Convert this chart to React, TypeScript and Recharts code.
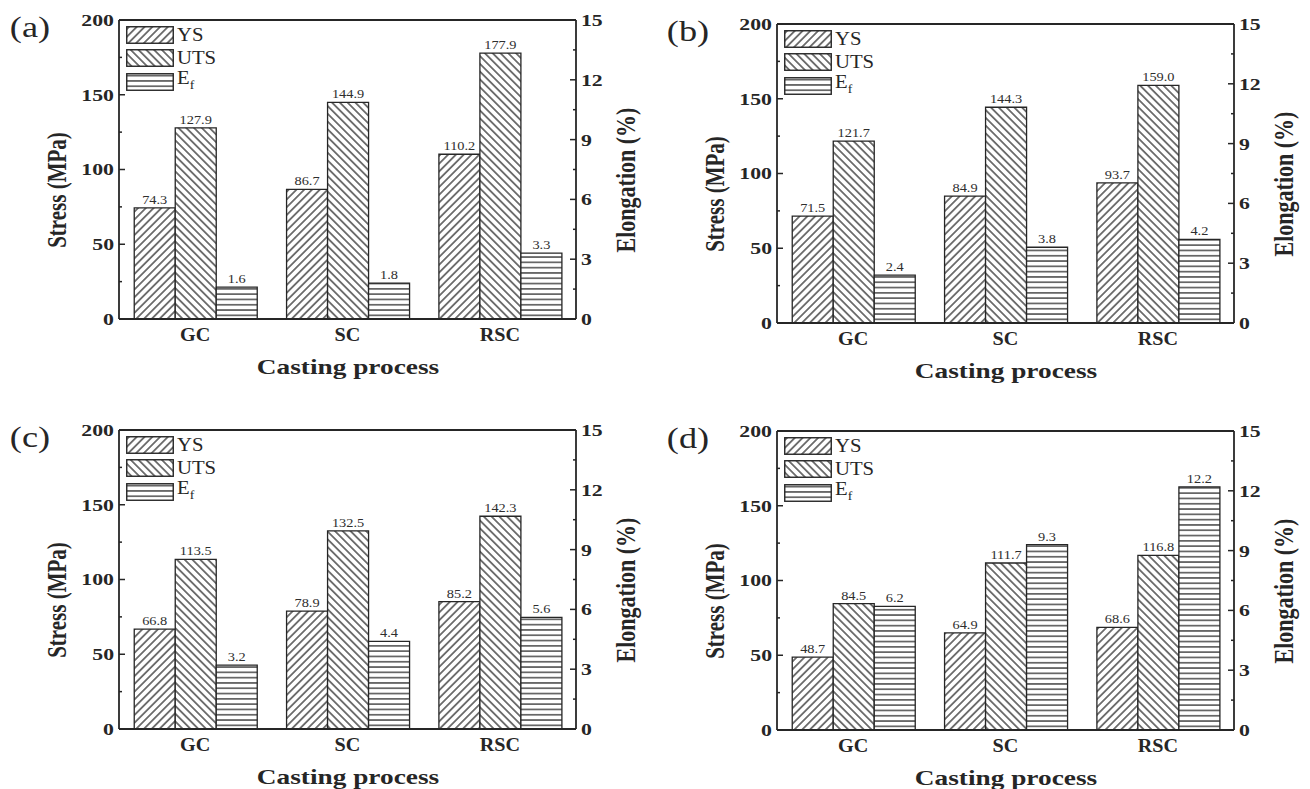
import React from 'react';
import { BarChart, Bar, XAxis, YAxis, LabelList, ReferenceLine } from 'recharts';

const categories = ['GC', 'SC', 'RSC'];

const ysA = [74.3, 86.7, 110.2];
const utsA = [127.9, 144.9, 177.9];
const efA = [1.6, 1.8, 3.3];

const ysB = [71.5, 84.9, 93.7];
const utsB = [121.7, 144.3, 159.0];
const efB = [2.4, 3.8, 4.2];

const ysC = [66.8, 78.9, 85.2];
const utsC = [113.5, 132.5, 142.3];
const efC = [3.2, 4.4, 5.6];

const ysD = [48.7, 64.9, 68.6];
const utsD = [84.5, 111.7, 116.8];
const efD = [6.2, 9.3, 12.2];

const stressTicks = [0, 25, 50, 75, 100, 125, 150, 175, 200];
const elongTicks = [0, 1.5, 3, 4.5, 6, 7.5, 9, 10.5, 12, 13.5, 15];

const FONT = '"Liberation Serif", "Times New Roman", serif';
const INK = '#262626';

const CHART_W = 655;
const CHART_H = 400;
const PLOT_L = 119;
const PLOT_T = 20;
const PLOT_W = 457;
const PLOT_H = 299;

const TM = 4; // gap between axis line and tick labels

// stretched text, the figure is a bit wider than normal Times
const SText = ({ x, y, s = 1.28, anchor = 'middle', size = 17, weight = 700, fill = INK, children }: any) => (
  <text
    transform={`translate(${x},${y}) scale(${s},1)`}
    textAnchor={anchor}
    dy="0.35em"
    fontFamily={FONT}
    fontSize={size}
    fontWeight={weight}
    fill={fill}
  >
    {children}
  </text>
);

const LeftTick = (props: any) => {
  const { x, y, payload } = props;
  const ax = x + TM;
  const major = payload.value % 50 === 0;
  return (
    <g>
      <line x1={ax} x2={ax + (major ? 6 : 3)} y1={y} y2={y} stroke={INK} strokeWidth={1.5} />
      {major && <SText x={ax - 5} y={y} anchor="end">{payload.value}</SText>}
    </g>
  );
};

const RightTick = (props: any) => {
  const { x, y, payload } = props;
  const ax = x - TM;
  const major = payload.value % 3 === 0;
  return (
    <g>
      <line x1={ax} x2={ax - (major ? 6 : 3)} y1={y} y2={y} stroke={INK} strokeWidth={1.5} />
      {major && <SText x={ax + 5} y={y} anchor="start">{payload.value}</SText>}
    </g>
  );
};

const CatTick = (props: any) => {
  const { x, y, payload } = props;
  return <SText x={x} y={y} s={1.12} size={18}>{payload.value}</SText>;
};

const ValueLabel = (props: any) => {
  const { x, y, width, value } = props;
  return (
    <SText x={Number(x) + Number(width) / 2} y={Number(y) - 8} s={1.25} size={11.5} weight={400} fill="#2e2e2e">
      {Number(value).toFixed(1)}
    </SText>
  );
};

const Swatch = ({ fill }: { fill: string }) => (
  <svg width={48} height={18} style={{ display: 'block' }}>
    <rect x={0.75} y={0.75} width={46.5} height={16.5} fill={fill} stroke={INK} strokeWidth={1.4} />
  </svg>
);

const legendRows = [
  { fill: 'url(#hatchYS)', name: 'YS', sub: '' },
  { fill: 'url(#hatchUTS)', name: 'UTS', sub: '' },
  { fill: 'url(#hatchEF)', name: 'E', sub: 'f' },
];

const PanelLegend = () => (
  <div style={{ position: 'absolute', left: PLOT_L + 7, top: PLOT_T + 3 }}>
    {legendRows.map((r) => (
      <div key={r.name} style={{ display: 'flex', alignItems: 'center', height: 23.5 }}>
        <Swatch fill={r.fill} />
        <span
          style={{
            fontFamily: FONT,
            fontSize: 18,
            color: INK,
            marginLeft: 3,
            display: 'inline-block',
            transform: 'scale(1.15,1)',
            transformOrigin: 'left center',
            lineHeight: '18px',
          }}
        >
          {r.name}
          {r.sub && <sub style={{ fontSize: 12 }}>{r.sub}</sub>}
        </span>
      </div>
    ))}
  </div>
);

interface PanelProps {
  tag: string;
  left: number;
  top: number;
  ys: number[];
  uts: number[];
  ef: number[];
}

const Panel = ({ tag, left, top, ys, uts, ef }: PanelProps) => {
  const rows = categories.map((c, i) => ({ cat: c, ys: ys[i], uts: uts[i], ef: ef[i] }));
  return (
    <div style={{ position: 'absolute', left, top, width: CHART_W, height: CHART_H }}>
      <BarChart
        width={CHART_W}
        height={CHART_H}
        data={rows}
        margin={{ top: PLOT_T, right: 0, bottom: 0, left: 0 }}
        barCategoryGap="10%"
        barGap={0}
      >
        <XAxis
          dataKey="cat"
          height={CHART_H - PLOT_T - PLOT_H}
          axisLine={{ stroke: INK, strokeWidth: 1.8 }}
          tickLine={false}
          tickSize={0}
          tickMargin={16}
          tick={<CatTick />}
        />
        <YAxis
          yAxisId="left"
          width={PLOT_L}
          domain={[0, 200]}
          ticks={stressTicks}
          interval={0}
          axisLine={{ stroke: INK, strokeWidth: 1.8 }}
          tickLine={false}
          tickSize={0}
          tickMargin={TM}
          tick={<LeftTick />}
        />
        <YAxis
          yAxisId="right"
          orientation="right"
          width={CHART_W - PLOT_L - PLOT_W}
          domain={[0, 15]}
          ticks={elongTicks}
          interval={0}
          axisLine={{ stroke: INK, strokeWidth: 1.8 }}
          tickLine={false}
          tickSize={0}
          tickMargin={TM}
          tick={<RightTick />}
        />
        <ReferenceLine yAxisId="left" y={200} stroke={INK} strokeWidth={1.8} />
        <Bar dataKey="ys" yAxisId="left" fill="url(#hatchYS)" stroke={INK} strokeWidth={1.3} isAnimationActive={false}>
          <LabelList dataKey="ys" content={<ValueLabel />} />
        </Bar>
        <Bar dataKey="uts" yAxisId="left" fill="url(#hatchUTS)" stroke={INK} strokeWidth={1.3} isAnimationActive={false}>
          <LabelList dataKey="uts" content={<ValueLabel />} />
        </Bar>
        <Bar dataKey="ef" yAxisId="right" fill="url(#hatchEF)" stroke={INK} strokeWidth={1.3} isAnimationActive={false}>
          <LabelList dataKey="ef" content={<ValueLabel />} />
        </Bar>
      </BarChart>

      <PanelLegend />

      <div
        style={{
          position: 'absolute',
          left: PLOT_L - 89,
          top: PLOT_T + 7,
          transform: 'translate(-50%,-50%) scale(1.25,1)',
          fontFamily: FONT,
          fontSize: 29,
          color: INK,
          whiteSpace: 'nowrap',
        }}
      >
        ({tag})
      </div>
      <div
        style={{
          position: 'absolute',
          left: PLOT_L - 61,
          top: PLOT_T + PLOT_H / 2 + 20,
          transform: 'translate(-50%,-50%) scale(1.25,1) rotate(-90deg)',
          fontFamily: FONT,
          fontSize: 21,
          fontWeight: 700,
          color: INK,
          whiteSpace: 'nowrap',
        }}
      >
        Stress (MPa)
      </div>
      <div
        style={{
          position: 'absolute',
          left: PLOT_L + PLOT_W + 50,
          top: PLOT_T + PLOT_H / 2 + 10,
          transform: 'translate(-50%,-50%) scale(1.25,1) rotate(-90deg)',
          fontFamily: FONT,
          fontSize: 22,
          fontWeight: 700,
          color: INK,
          whiteSpace: 'nowrap',
        }}
      >
        Elongation (%)
      </div>
      <div
        style={{
          position: 'absolute',
          left: PLOT_L + PLOT_W / 2,
          top: PLOT_T + PLOT_H + 48,
          transform: 'translate(-50%,-50%) scale(1.3,1)',
          fontFamily: FONT,
          fontSize: 21,
          fontWeight: 700,
          color: INK,
          whiteSpace: 'nowrap',
        }}
      >
        Casting process
      </div>
    </div>
  );
};

const HatchDefs = () => (
  <svg width={0} height={0} style={{ position: 'absolute' }}>
    <defs>
      <pattern id="hatchYS" patternUnits="userSpaceOnUse" width={5.5} height={10} patternTransform="rotate(45)">
        <rect width={5.5} height={10} fill="#fff" />
        <line x1={2.75} y1={0} x2={2.75} y2={10} stroke="#303030" strokeWidth={1.3} />
      </pattern>
      <pattern id="hatchUTS" patternUnits="userSpaceOnUse" width={5.5} height={10} patternTransform="rotate(-45)">
        <rect width={5.5} height={10} fill="#fff" />
        <line x1={2.75} y1={0} x2={2.75} y2={10} stroke="#303030" strokeWidth={1.3} />
      </pattern>
      <pattern id="hatchEF" patternUnits="userSpaceOnUse" width={10} height={5.3}>
        <rect width={10} height={5.3} fill="#fff" />
        <line x1={0} y1={2.65} x2={10} y2={2.65} stroke="#303030" strokeWidth={1.3} />
      </pattern>
    </defs>
  </svg>
);

export default function App() {
  return (
    <div style={{ position: 'absolute', left: 0, top: 0, width: 1310, height: 789, background: '#fff' }}>
      <HatchDefs />
      <Panel tag="a" left={0} top={0} ys={ysA} uts={utsA} ef={efA} />
      <Panel tag="b" left={658} top={4} ys={ysB} uts={utsB} ef={efB} />
      <Panel tag="c" left={0} top={410} ys={ysC} uts={utsC} ef={efC} />
      <Panel tag="d" left={658} top={411} ys={ysD} uts={utsD} ef={efD} />
    </div>
  );
}
